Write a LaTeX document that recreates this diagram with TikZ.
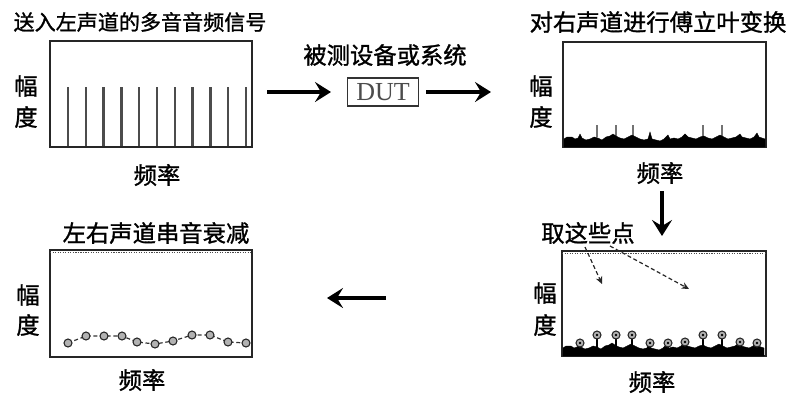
\documentclass[tikz,border=0pt]{standalone}
\usepackage{fontspec}
\setmainfont{Noto Sans CJK SC}[FakeBold=1.2]
\newfontfamily\dutfont{Liberation Serif}
\usetikzlibrary{arrows.meta}
\begin{document}
\begin{tikzpicture}[x=0.75pt,y=-0.75pt,
  lbl/.style={font=\fontsize{17.5pt}{18pt}\selectfont, inner sep=0pt, text=black},
  ttl/.style={font=\fontsize{15.8pt}{16pt}\selectfont, inner sep=0pt, text=black},
  panel/.style={draw=black!85, line width=1.5pt, inner sep=0pt, outer sep=0pt, minimum width=151.5pt},
  bigarrow/.style={line width=3.4pt, black, -{Stealth[length=12pt,width=15pt,inset=4.5pt]}},
  thinarrow/.style={line width=0.9pt, black!85, densely dashed, -{Stealth[length=5.5pt,width=5pt]}},
  bar/.style={line width=1.9pt, black!70},
  spike/.style={line width=1.8pt, black!55},
  stem/.style={line width=1.4pt, black},
  dot/.style={draw=black!85, fill=black!30, line width=0.8pt},
  noise/.style={fill=black, draw=black, line width=0.3pt}
]
\useasboundingbox (0,0) rectangle (791,394);

% ---------- panel A (top-left) ----------
\node[panel, minimum height=79.5pt] (A) at (151,94) {};
\node[ttl] (tA) at (140,22) {送入左声道的多音音频信号};
\node[lbl] (yA1) at (26,86) {幅};
\node[lbl] (yA2) at (26,117) {度};
\node[lbl] (xA) at (157,175) {频率};
\foreach \i in {0,...,10}{
  \draw[bar] ({68+\i*17.8},87) -- ({68+\i*17.8},146);
}

% ---------- DUT ----------
\node[lbl] (dutlbl) at (385,55) {被测设备或系统};
\node[draw=black!80, line width=1pt, minimum width=53pt, minimum height=21pt, inner sep=0pt,
      font=\dutfont\fontsize{19.5pt}{19.5pt}\selectfont, text=black!70] (DUT) at (383,92) {DUT};
\coordinate (a1s) at (267,92);
\coordinate (a1e) at (331,92);
\coordinate (a2s) at (426,92);
\coordinate (a2e) at (491,92);
\draw[bigarrow] (a1s) -- (a1e);
\draw[bigarrow] (a2s) -- (a2e);

% ---------- panel B (top-right) ----------
\node[panel, minimum height=78.75pt, minimum width=152.25pt] (B) at (664.5,94.5) {};
\node[lbl] (tB) at (658,22) {对右声道进行傅立叶变换};
\node[lbl] (yB1) at (541,86) {幅};
\node[lbl] (yB2) at (541,117) {度};
\node[lbl] (xB) at (660,173) {频率};
\foreach \x in {597,616,633,703,722}{
  \draw[spike] (\x,137) -- (\x,125);
}
\def\noisepts{(564,147) -- (564,139) -- (567,137) -- (572,137) -- (575,139) -- (578,138) -- (580,134) -- (582,138) -- (586,140) -- (590,139) -- (594,137) -- (598,138) -- (602,140) -- (606,137) -- (610,136) -- (613,134) -- (616,136) -- (620,138) -- (624,139) -- (628,137) -- (632,135) -- (636,137) -- (640,139) -- (644,140) -- (648,139) -- (650,132) -- (652,139) -- (656,140) -- (660,141) -- (664,139) -- (668,135) -- (670,139) -- (674,138) -- (678,139) -- (682,137) -- (685,134) -- (688,137) -- (692,138) -- (696,139) -- (700,137) -- (704,136) -- (708,138) -- (712,139) -- (716,137) -- (720,135) -- (724,137) -- (728,139) -- (732,138) -- (736,137) -- (740,134) -- (742,137) -- (746,138) -- (750,139) -- (754,137) -- (757,133) -- (759,137) -- (762,138) -- (765,139) -- (765,147) -- cycle}
\fill[noise] \noisepts;

% ---------- down arrow ----------
\coordinate (a3s) at (662,191);
\coordinate (a3e) at (662,236);
\draw[bigarrow] (a3s) -- (a3e);

% ---------- panel C (bottom-right) ----------
\node[panel, minimum height=78.75pt, minimum width=153pt] (C) at (664,303.5) {};
\draw[densely dotted, line width=0.9pt, black!70] ([yshift=-1.6pt]C.north west) -- ([yshift=-1.6pt]C.north east);
\node[lbl] (tC) at (588,233) {取这些点};
\node[lbl] (yC1) at (545,293) {幅};
\node[lbl] (yC2) at (545,325) {度};
\node[lbl] (xC) at (652,382) {频率};
\begin{scope}[shift={(-1,209)}]
  \fill[noise] \noisepts;
\end{scope}
\foreach \x/\y in {580/343,597/335,616/335,632/335,650/343,668/343,685/342,703/335,722/335,740/342,757/343}{
  \draw[stem] (\x,\y) -- (\x,348);
  \draw[dot] (\x,\y) circle[radius=3pt];
  \fill[black] (\x,\y) circle[radius=1pt];
}
\coordinate (p1s) at (585,247);
\coordinate (p1e) at (602,284);
\coordinate (p2s) at (610,246);
\coordinate (p2e) at (689,289);
\draw[thinarrow] (p1s) -- (p1e);
\draw[thinarrow] (p2s) -- (p2e);

% ---------- left arrow ----------
\coordinate (a4s) at (386,298);
\coordinate (a4e) at (327,298);
\draw[bigarrow] (a4s) -- (a4e);

% ---------- panel D (bottom-left) ----------
\node[panel, minimum height=80.25pt] (D) at (151,303.5) {};
\draw[densely dotted, line width=0.9pt, black!70] ([yshift=-1.6pt]D.north west) -- ([yshift=-1.6pt]D.north east);
\node[lbl] (tD) at (156,233) {左右声道串音衰减};
\node[lbl] (yD1) at (28,295) {幅};
\node[lbl] (yD2) at (28,325) {度};
\node[lbl] (xD) at (142,380) {频率};
\draw[black!80, line width=0.9pt, densely dashed]
  (68,343) -- (86,336) -- (104,336) -- (122,336) -- (137,342) -- (155,344) -- (173,341) -- (192,335) -- (210,335) -- (228,342) -- (246,343);
\foreach \x/\y in {68/343,86/336,104/336,122/336,137/342,155/344,173/341,192/335,210/335,228/342,246/343}{
  \draw[dot] (\x,\y) circle[radius=3pt];
}
\end{tikzpicture}
\end{document}
